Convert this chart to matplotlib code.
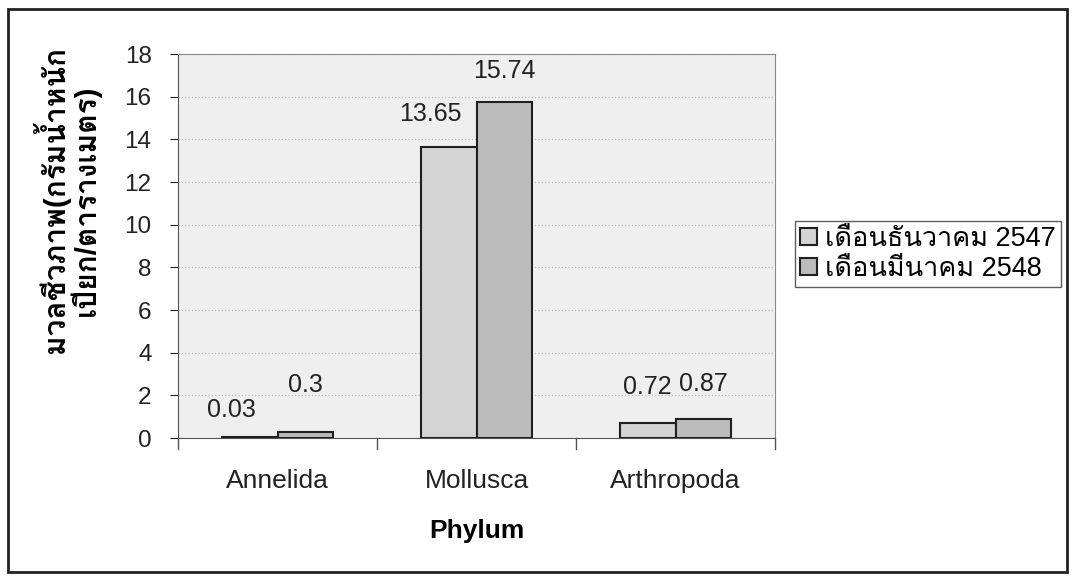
import numpy as np
import matplotlib.pyplot as plt
from matplotlib.patches import Rectangle

# Data
phylum = ['Annelida', 'Mollusca', 'Arthropoda']
dec_2547 = [0.03, 13.65, 0.72]
mar_2548 = [0.3, 15.74, 0.87]
series_names = ['เดือนธันวาคม 2547', 'เดือนมีนาคม 2548']
y_ticks = list(range(0, 19, 2))

# label nudges (points) to match the hand-placed labels of the original
dec_offsets = [(-13, 11), (-13, 15), (0, 17)]
mar_offsets = [(0, 25), (0, 14), (0, 17)]

plt.rcParams['font.family'] = ['Liberation Sans', 'Loma', 'DejaVu Sans']

fig = plt.figure(figsize=(10.73, 5.80), dpi=100)
ax = fig.add_axes([0.1659, 0.2448, 0.5564, 0.662])
ax.set_facecolor('#efefef')

x = np.arange(len(phylum))
w = 0.28
b1 = ax.bar(x - w / 2, dec_2547, w, color='#d4d4d4', edgecolor='#202020', linewidth=1.5,
            label=series_names[0], zorder=3)
b2 = ax.bar(x + w / 2, mar_2548, w, color='#bcbcbc', edgecolor='#202020', linewidth=1.5,
            label=series_names[1], zorder=3)

for bars, vals, offs in ((b1, dec_2547, dec_offsets), (b2, mar_2548, mar_offsets)):
    for r, v, o in zip(bars, vals, offs):
        ax.annotate(f'{v:g}', (r.get_x() + r.get_width() / 2, v), xytext=o,
                    textcoords='offset points', ha='center', va='bottom', fontsize=18,
                    color='#222222')

ax.set_xlim(-0.5, 2.5)
ax.set_ylim(0, 18)
ax.set_yticks(y_ticks)
ax.tick_params(axis='y', labelsize=17.5, length=6, pad=13, direction='out', colors='#222222')
ax.set_xticks(x)
ax.set_xticklabels(phylum, fontsize=19)
ax.tick_params(axis='x', length=0, pad=22, colors='#222222')
for b in [-0.5, 0.5, 1.5, 2.5]:
    ax.plot([b, b], [0, -0.5], color='#555555', lw=1, clip_on=False, zorder=4)
ax.grid(axis='y', linestyle=(0, (1, 2)), color='#b0b0b0', linewidth=0.8, zorder=0)
for s in ['top', 'right']:
    ax.spines[s].set_color('#888888')
for s in ['left', 'bottom']:
    ax.spines[s].set_color('#555555')

ax.set_xlabel('Phylum', fontsize=19, fontweight='bold', labelpad=19)
ax.set_ylabel('มวลชีวภาพ(กรัมน้ำหนัก\nเปียก/ตารางเมตร)', fontsize=21.5, fontweight='bold',
              linespacing=0.95)
ax.yaxis.set_label_coords(-0.13, 0.62)

leg = fig.legend(loc='upper left', bbox_to_anchor=(795 / 1073, 1 - 221 / 580), fontsize=19.5,
                 frameon=True, fancybox=False, edgecolor='#333333', handlelength=0.6,
                 handleheight=0.6, handletextpad=0.3, borderpad=0.2, labelspacing=0.12,
                 borderaxespad=0)
leg.get_frame().set_linewidth(1)

fig.patches.append(Rectangle((8 / 1073, 8 / 580), 1059 / 1073, 563 / 580, transform=fig.transFigure,
                             fill=False, edgecolor='#222222', linewidth=2))

fig.savefig('out.png', dpi=100)
